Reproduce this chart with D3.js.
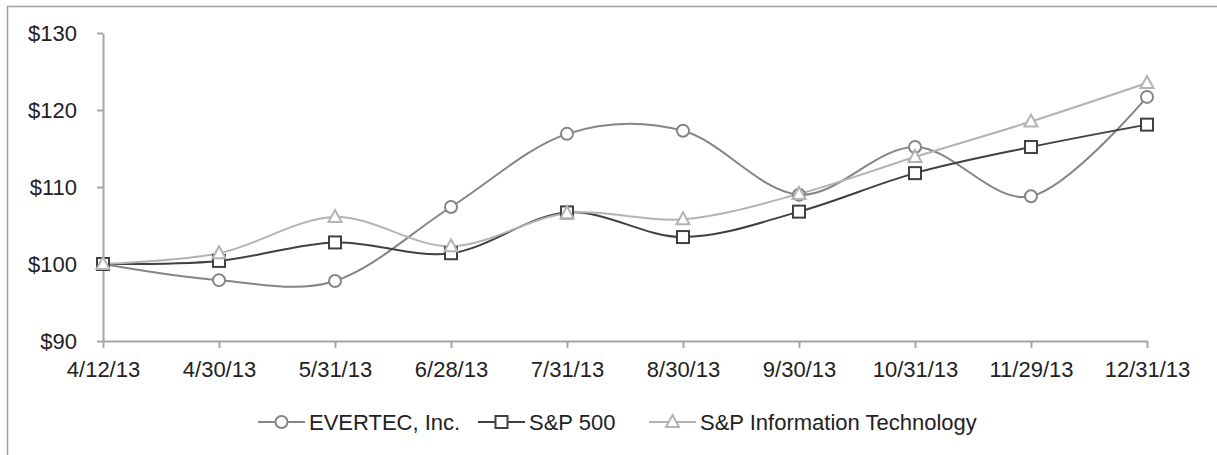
<!DOCTYPE html>
<html>
<head>
<meta charset="utf-8">
<script src="https://cdn.jsdelivr.net/npm/d3@7"></script>
<style>
  body { margin: 0; background: #fff; }
  svg { display: block; font-family: "Liberation Sans", Arial, sans-serif; }
</style>
</head>
<body>
<div id="chart"></div>
<script>
// data
const dates = ["4/12/13", "4/30/13", "5/31/13", "6/28/13", "7/31/13", "8/30/13", "9/30/13", "10/31/13", "11/29/13", "12/31/13"];
const evertec = [100, 97.9, 97.8, 107.4, 116.9, 117.3, 109.0, 115.2, 108.8, 121.7];
const sp500 = [100, 100.4, 102.8, 101.4, 106.7, 103.5, 106.8, 111.8, 115.2, 118.1];
const spIT = [100, 101.4, 106.1, 102.3, 106.6, 105.8, 109.1, 113.9, 118.5, 123.5];
const yTicks = [90, 100, 110, 120, 130];

const series = [
    { name: "EVERTEC, Inc.", values: evertec, color: "#858585", marker: "circle" },
    { name: "S&P 500", values: sp500, color: "#404040", marker: "square" },
    { name: "S&P Information Technology", values: spIT, color: "#b3b3b3", marker: "triangle" }
];

const W = 1217, H = 455;
const margin = { top: 33, right: 70, bottom: 114, left: 103 };
const fontSize = "22px";

const svg = d3.select("#chart").append("svg")
    .attr("width", W)
    .attr("height", H);

// outer frame
svg.append("rect")
    .attr("x", 7.5).attr("y", 6.5)
    .attr("width", W + 10).attr("height", H + 10)
    .attr("fill", "none")
    .attr("stroke", "#a0a0a0")
    .attr("stroke-width", 1.5);

const x = d3.scalePoint()
    .domain(dates)
    .range([margin.left, W - margin.right]);

const y = d3.scaleLinear()
    .domain([90, 130])
    .range([H - margin.bottom, margin.top]);

const axisColor = "#a6a6a6";

// y axis
const yAxis = svg.append("g")
    .attr("transform", `translate(${margin.left},0)`)
    .call(d3.axisLeft(y).tickValues(yTicks).tickFormat(d => "$" + d).tickSize(6).tickSizeOuter(0).tickPadding(20));
yAxis.attr("font-size", null).attr("font-family", null);
yAxis.select(".domain").attr("stroke", axisColor).attr("stroke-width", 2);
yAxis.selectAll(".tick line").attr("stroke", axisColor).attr("stroke-width", 2);
yAxis.selectAll("text").attr("fill", "#222").style("font-size", fontSize);

// x axis
const xAxis = svg.append("g")
    .attr("transform", `translate(0,${y(90)})`)
    .call(d3.axisBottom(x).tickSize(7).tickSizeOuter(0).tickPadding(13));
xAxis.attr("font-size", null).attr("font-family", null);
xAxis.select(".domain").attr("stroke", axisColor).attr("stroke-width", 2);
xAxis.selectAll(".tick line").attr("stroke", axisColor).attr("stroke-width", 2);
xAxis.selectAll("text").attr("fill", "#222").style("font-size", fontSize);

const line = d3.line()
    .x((d, i) => x(dates[i]))
    .y(d => y(d))
    .curve(d3.curveCatmullRom.alpha(0));

function drawMarker(g, type, cx, cy, color) {
    if (type === "circle") {
        g.append("circle").attr("cx", cx).attr("cy", cy).attr("r", 6)
            .attr("fill", "#fff").attr("stroke", color).attr("stroke-width", 2);
    } else if (type === "square") {
        g.append("rect").attr("x", cx - 6).attr("y", cy - 6).attr("width", 12).attr("height", 12)
            .attr("fill", "#fff").attr("stroke", color).attr("stroke-width", 2);
    } else {
        g.append("path")
            .attr("d", `M${cx},${cy - 7}L${cx + 6.5},${cy + 5}L${cx - 6.5},${cy + 5}Z`)
            .attr("fill", "#fff").attr("stroke", color).attr("stroke-width", 2);
    }
}

// lines first, then markers, in series order
series.forEach(s => {
    svg.append("path")
        .datum(s.values)
        .attr("d", line)
        .attr("fill", "none")
        .attr("stroke", s.color)
        .attr("stroke-width", 2);
});
series.forEach(s => {
    const g = svg.append("g");
    s.values.forEach((v, i) => drawMarker(g, s.marker, x(dates[i]), y(v), s.color));
});

// legend
const legendY = 422;
const legendX = [258, 478, 649];
series.forEach((s, i) => {
    const g = svg.append("g");
    g.append("line")
        .attr("x1", legendX[i]).attr("x2", legendX[i] + 47)
        .attr("y1", legendY).attr("y2", legendY)
        .attr("stroke", s.color).attr("stroke-width", 2);
    drawMarker(g, s.marker, legendX[i] + 23.5, legendY, s.color);
    g.append("text")
        .attr("x", legendX[i] + 51)
        .attr("y", legendY)
        .attr("dy", "0.35em")
        .attr("fill", "#222")
        .style("font-size", fontSize)
        .text(s.name);
});
</script>
</body>
</html>
